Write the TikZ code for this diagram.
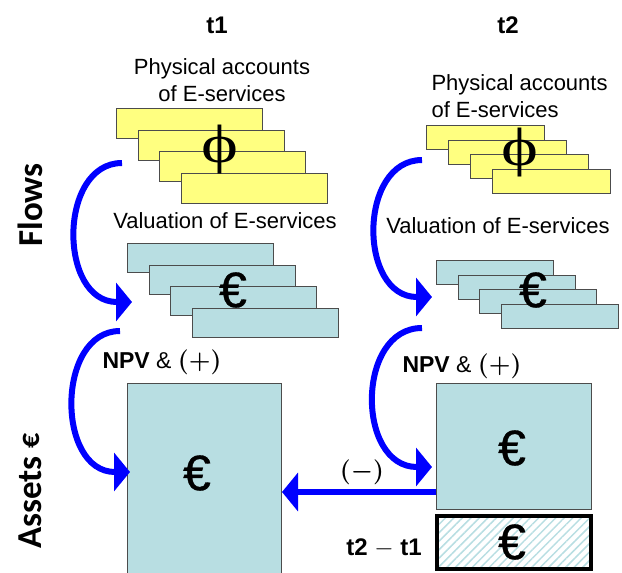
\documentclass[tikz,border=0pt]{standalone}
\usepackage{fontspec}
\setmainfont{Liberation Sans}
\newfontfamily\calfont{Carlito}
\newfontfamily\serfont{Liberation Serif}
\newfontfamily\eurfont[FakeBold=0.7]{Liberation Sans}
\newcommand\sgnsize{\fontsize{26}{26}\selectfont\boldmath}
\usetikzlibrary{arrows.meta,patterns.meta}
\definecolor{accyellow}{RGB}{255,255,128}
\definecolor{valblue}{RGB}{184,222,226}
\definecolor{flowblue}{RGB}{0,0,255}

\begin{document}
\begin{tikzpicture}[x=1pt, y=-1pt,
  font=\fontsize{22}{27}\selectfont,
  slab/.style={draw=black!70, line width=1pt, anchor=north west, inner sep=0pt},
  phys/.style={slab, fill=accyellow},
  valu/.style={slab, fill=valblue},
  big/.style={slab, fill=valblue},
  sym/.style={inner sep=0pt, font=\eurfont\fontsize{50}{50}\selectfont},
  phisym/.style={inner sep=0pt, font=\serfont\fontsize{54}{54}\selectfont},
  hdr/.style={anchor=base, font=\bfseries\fontsize{24}{24}\selectfont},
  side/.style={rotate=90, font=\calfont\bfseries\fontsize{35}{35}\selectfont},
  npv/.style={anchor=base, font=\bfseries\fontsize{23}{23}\selectfont},
  sgn/.style={font=\sgnsize},
  flow/.style={draw=flowblue, line width=6pt, -{Triangle[length=16pt,width=38pt]}}
]
\useasboundingbox (0,0) rectangle (622,573);

\node[hdr] (t1) at (217,33) {t1};
\node[hdr] (t2) at (508,33) {t2};
\node[side] (flows) at (30,205) {Flows};
\node[side] (assets) at (30,491) {Assets \raisebox{2pt}{\fontsize{30}{30}\selectfont €}};

\node[align=center] (acc1) at (222,80) {Physical accounts\\of E-services};
\node[align=left, anchor=west] (acc2) at (428,96) {Physical accounts\\of E-services};
\node[anchor=base] (val1) at (225,228) {Valuation of E-services};
\node[anchor=base] (val2) at (498,233) {Valuation of E-services};

\foreach \i in {0,...,3} {
  \node[phys, minimum width=146pt, minimum height=30pt] (phys1-\i) at ({116+21.7*\i},{108+21.7*\i}) {};
  \node[valu, minimum width=146pt, minimum height=29pt] (valu1-\i) at ({127+21.7*\i},{243+21.7*\i}) {};
  \node[phys, minimum width=118pt, minimum height=24pt] (phys2-\i) at ({426+22*\i},{125+14.7*\i}) {};
  \node[valu, minimum width=117pt, minimum height=24pt] (valu2-\i) at ({436+21.7*\i},{260+14.7*\i}) {};
}
\node[phisym] (phi1) at (220,150) {\scalebox{1.3}[1]{ϕ}};
\node[phisym] (phi2) at (520,153) {\scalebox{1.3}[1]{ϕ}};
\node[sym] (eur1) at (233,290) {€};
\node[sym] (eur2) at (533,290) {€};

\node[npv] (npv1) at (162,368) {NPV {\mdseries\&} {\sgnsize$(+)$}};
\node[npv] (npv2) at (462,372) {NPV {\mdseries\&} {\sgnsize$(+)$}};

\node[big, minimum width=154pt, minimum height=194pt] (ast1) at (127,383) {};
\node[big, minimum width=155pt, minimum height=126pt] (ast2) at (436,383) {};
\node[draw=black, line width=4pt, anchor=north west, inner sep=0pt,
      minimum width=154pt, minimum height=53pt,
      pattern={Lines[angle=45,distance=6pt,line width=1.5pt]}, pattern color=valblue] (gain) at (436,515) {};
\node[sym] (eur3) at (197,473) {€};
\node[sym] (eur4) at (512,448) {€};
\node[sym] (eur5) at (512,542) {€};
\node[hdr] (diff) at (384,555) {t2 $-$ t1};
\node[sgn] (neg) at (362,472) {$(-)$};

\coordinate (f1a) at (122,163);
\coordinate (f1b) at (132,302);
\coordinate (f1c) at (120,331);
\coordinate (f1d) at (130,472);
\coordinate (f2a) at (422,160);
\coordinate (f2b) at (432,297);
\coordinate (f2c) at (422,328);
\coordinate (f2d) at (432,467);
\coordinate (lvl) at (0,492);
\draw[flow] (f1a) .. controls (58,163) and (58,302) .. (f1b);
\draw[flow] (f1c) .. controls (56,331) and (56,472) .. (f1d);
\draw[flow] (f2a) .. controls (358,160) and (358,297) .. (f2b);
\draw[flow] (f2c) .. controls (356,328) and (356,467) .. (f2d);
\draw[flow] (ast2.west |- lvl) -- (ast1.east |- lvl);
\end{tikzpicture}
\end{document}
